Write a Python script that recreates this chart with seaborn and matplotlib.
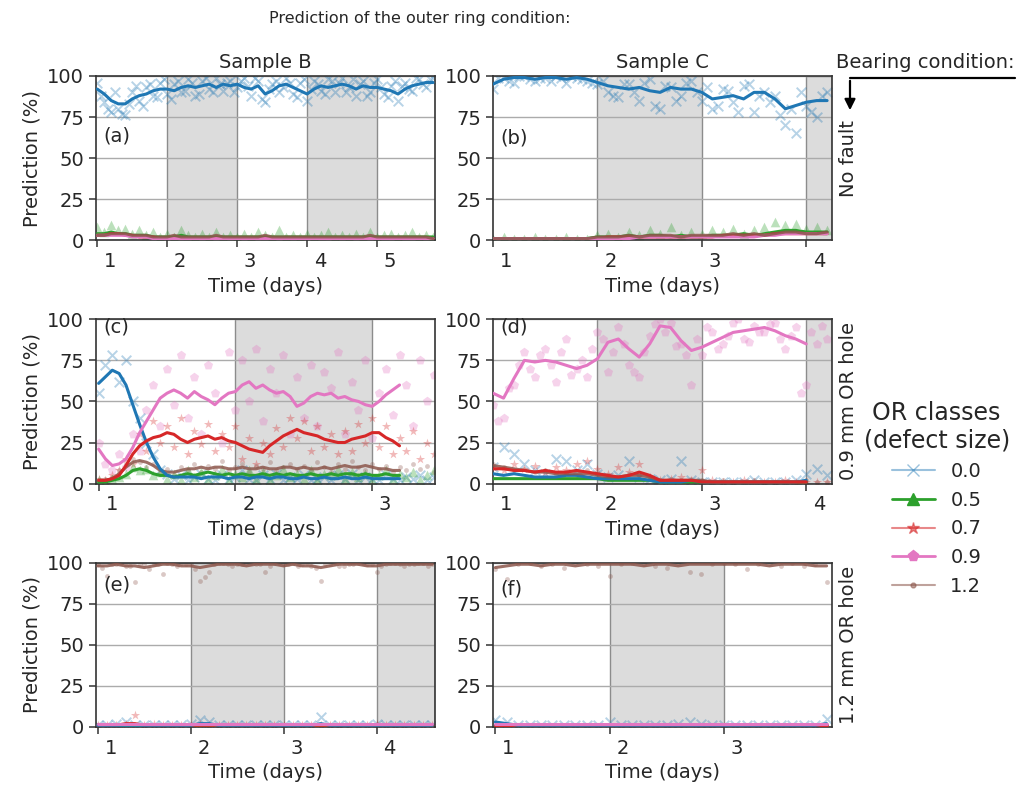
import matplotlib
matplotlib.use("Agg")
import matplotlib.pyplot as plt
import matplotlib.transforms as mtransforms
from matplotlib.lines import Line2D
from matplotlib.patches import FancyArrowPatch
import seaborn as sns

# ---------------- data ----------------
CLASSES = ["0.0", "0.5", "0.7", "0.9", "1.2"]
COLORS = ["#1f77b4", "#2ca02c", "#d62728", "#e377c2", "#8c564b"]
MARKERS = ["x", "^", "*", "p", "."]

# panel (a): sample B, no fault
A_T = [1.0, 1.1, 1.2, 1.3, 1.4, 1.5, 1.6, 1.7, 1.8, 1.9,
       2.0, 2.1, 2.2, 2.3, 2.4, 2.5, 2.6, 2.7, 2.8, 2.9,
       3.0, 3.1, 3.2, 3.3, 3.4, 3.5, 3.6, 3.7, 3.8, 3.9,
       4.0, 4.1, 4.2, 4.3, 4.4, 4.5, 4.6, 4.7, 4.8, 4.9,
       5.0, 5.1, 5.2, 5.3, 5.4, 5.5, 5.6, 5.7, 5.8]
A_TM = [1.05, 1.15, 1.25, 1.35, 1.45, 1.55, 1.65, 1.75, 1.85, 1.95,
        2.05, 2.15, 2.25, 2.35, 2.45, 2.55, 2.65, 2.75, 2.85, 2.95,
        3.05, 3.15, 3.25, 3.35, 3.45, 3.55, 3.65, 3.75, 3.85, 3.95,
        4.05, 4.15, 4.25, 4.35, 4.45, 4.55, 4.65, 4.75, 4.85, 4.95,
        5.05, 5.15, 5.25, 5.35, 5.45, 5.55, 5.65, 5.75]
A_L00 = [92, 89, 85, 83, 83, 86, 88, 89, 91, 92,
         92, 91, 93, 94, 93, 94, 95, 93, 95, 94,
         95, 93, 92, 94, 89, 91, 94, 95, 93, 91,
         89, 92, 94, 93, 94, 95, 94, 92, 94, 93,
         93, 92, 91, 89, 92, 94, 95, 96, 96]
A_S00 = [96, 84, 78, 80, 76, 90, 85, 93, 88, 96,
         89, 95, 90, 98, 88, 97, 92, 99, 91, 97,
         93, 99, 88, 97, 84, 95, 90, 99, 89, 96,
         85, 97, 91, 98, 90, 99, 93, 88, 97, 90,
         98, 89, 94, 85, 96, 91, 98, 93, 99]
A_SM00 = [88, 80, 90, 77, 83, 94, 82, 95, 87, 98,
          86, 97, 91, 96, 89, 99, 90, 95, 96, 90,
          97, 94, 99, 86, 92, 97, 93, 96, 87, 98,
          92, 95, 89, 97, 96, 90, 98, 95, 88, 96,
          93, 87, 97, 94, 92, 99, 95, 98]
A_L05 = [4, 4, 5, 4, 4, 3, 3, 3, 2, 2,
         2, 2, 3, 2, 2, 2, 2, 2, 2, 2,
         2, 2, 2, 2, 2, 2, 2, 2, 2, 2,
         2, 2, 2, 2, 2, 2, 2, 2, 2, 2,
         2, 2, 2, 2, 2, 2, 2, 2, 2]
A_S05 = [8, 5, 9, 6, 7, 4, 6, 3, 5, 2,
         4, 2, 6, 3, 2, 4, 2, 5, 2, 3,
         2, 4, 2, 5, 3, 2, 6, 2, 3, 2,
         4, 2, 3, 5, 2, 3, 2, 4, 2, 5,
         2, 3, 4, 2, 3, 5, 2, 3, 2]
A_L07 = [3, 3, 4, 4, 3, 3, 2, 2, 2, 1,
         1, 1, 1, 1, 1, 1, 1, 1, 1, 1,
         1, 1, 1, 1, 1, 1, 1, 1, 1, 1,
         1, 1, 1, 1, 1, 1, 1, 1, 1, 1,
         1, 1, 1, 1, 1, 1, 1, 1, 1]
A_L09 = [3, 3, 3, 3, 3, 2, 2, 2, 1, 1,
         1, 1, 1, 1, 1, 1, 1, 1, 1, 1,
         1, 1, 1, 1, 1, 1, 1, 1, 1, 1,
         1, 1, 1, 1, 1, 1, 1, 1, 1, 1,
         1, 1, 1, 1, 1, 1, 1, 1, 1]
A_L12 = [3, 3, 4, 4, 4, 3, 3, 3, 2, 2,
         2, 3, 2, 2, 2, 2, 2, 3, 2, 2,
         2, 2, 2, 2, 3, 2, 2, 2, 2, 2,
         2, 2, 2, 2, 2, 2, 2, 2, 2, 3,
         2, 2, 2, 2, 2, 2, 2, 2, 1]

# panel (b): sample C, no fault
B_T = [1.0, 1.1, 1.2, 1.3, 1.4, 1.5, 1.6, 1.7, 1.8, 1.9,
       2.0, 2.1, 2.2, 2.3, 2.4, 2.5, 2.6, 2.7, 2.8, 2.9,
       3.0, 3.1, 3.2, 3.3, 3.4, 3.5, 3.6, 3.7, 3.8, 3.9,
       4.0, 4.1, 4.2]
B_TM = [1.05, 1.15, 1.25, 1.35, 1.45, 1.55, 1.65, 1.75, 1.85, 1.95,
        2.05, 2.15, 2.25, 2.35, 2.45, 2.55, 2.65, 2.75, 2.85, 2.95,
        3.05, 3.15, 3.25, 3.35, 3.45, 3.55, 3.65, 3.75, 3.85, 3.95,
        4.05, 4.15]
B_L00 = [95, 98, 99, 99, 98, 99, 99, 98, 99, 98,
         96, 94, 93, 92, 93, 91, 90, 93, 92, 92,
         90, 86, 87, 88, 86, 90, 90, 86, 80, 82,
         84, 85, 85]
B_S00 = [92, 99, 96, 100, 97, 99, 100, 96, 99, 97,
         95, 90, 87, 95, 85, 98, 80, 93, 88, 97,
         85, 80, 92, 84, 94, 78, 90, 88, 70, 65,
         82, 75, 90]
B_SM00 = [99, 97, 100, 98, 99, 97, 99, 100, 98, 96,
          97, 88, 95, 90, 96, 82, 94, 85, 96, 90,
          93, 82, 91, 78, 95, 88, 84, 76, 80, 90,
          78, 88]
B_L05 = [1, 1, 1, 1, 1, 1, 1, 1, 1, 1,
         2, 2, 2, 3, 2, 3, 3, 2, 3, 2,
         2, 3, 3, 3, 4, 3, 4, 5, 6, 6,
         5, 5, 5]
B_S05 = [1, 2, 1, 1, 2, 1, 1, 2, 1, 1,
         3, 4, 2, 5, 3, 6, 4, 8, 3, 5,
         4, 6, 5, 7, 4, 6, 8, 11, 9, 10,
         7, 8, 6]
B_L07 = [1, 1, 1, 1, 1, 1, 1, 1, 1, 1,
         1, 2, 2, 2, 2, 2, 2, 2, 2, 2,
         2, 2, 3, 3, 3, 3, 3, 4, 4, 4,
         4, 4, 4]
B_L09 = [1, 1, 1, 1, 1, 1, 1, 1, 1, 1,
         1, 1, 1, 1, 2, 2, 2, 2, 2, 2,
         2, 2, 2, 2, 2, 2, 3, 3, 4, 4,
         4, 4, 4]
B_L12 = [1, 1, 1, 1, 1, 1, 1, 1, 1, 1,
         2, 2, 2, 3, 2, 3, 3, 3, 2, 3,
         3, 3, 3, 4, 3, 4, 3, 4, 5, 5,
         4, 4, 5]

# panel (c): sample B, 0.9 mm OR hole
C_T = [1.0, 1.05, 1.1, 1.15, 1.2, 1.25, 1.3, 1.35, 1.4, 1.45,
       1.5, 1.55, 1.6, 1.65, 1.7, 1.75, 1.8, 1.85, 1.9, 1.95,
       2.0, 2.05, 2.1, 2.15, 2.2, 2.25, 2.3, 2.35, 2.4, 2.45,
       2.5, 2.55, 2.6, 2.65, 2.7, 2.75, 2.8, 2.85, 2.9, 2.95,
       3.0, 3.05, 3.1, 3.15, 3.2]
C_TS = [1.0, 1.05, 1.1, 1.15, 1.2, 1.25, 1.3, 1.35, 1.4, 1.45,
        1.5, 1.55, 1.6, 1.65, 1.7, 1.75, 1.8, 1.85, 1.9, 1.95,
        2.0, 2.05, 2.1, 2.15, 2.2, 2.25, 2.3, 2.35, 2.4, 2.45,
        2.5, 2.55, 2.6, 2.65, 2.7, 2.75, 2.8, 2.85, 2.9, 2.95,
        3.0, 3.05, 3.1, 3.15, 3.2, 3.25, 3.3, 3.35, 3.4, 3.45]
C_L00 = [61, 65, 69, 67, 60, 48, 36, 25, 16, 9,
         5, 4, 4, 4, 4, 3, 4, 4, 4, 3,
         4, 4, 3, 4, 4, 3, 4, 4, 3, 3,
         4, 3, 3, 4, 3, 3, 4, 3, 3, 4,
         3, 3, 3, 3, 3]
C_L05 = [1, 1, 2, 3, 5, 8, 9, 8, 6, 5,
         5, 4, 5, 6, 5, 6, 7, 6, 5, 6,
         5, 6, 5, 5, 6, 5, 6, 5, 6, 5,
         5, 6, 5, 5, 6, 5, 6, 6, 5, 6,
         5, 5, 6, 5, 5]
C_L07 = [2, 2, 3, 5, 11, 18, 23, 26, 28, 29,
         31, 30, 27, 25, 27, 28, 29, 27, 28, 26,
         25, 23, 21, 20, 19, 23, 26, 29, 31, 33,
         31, 30, 29, 27, 26, 25, 25, 27, 28, 29,
         31, 31, 28, 26, 23]
C_L09 = [21, 15, 11, 12, 15, 22, 31, 38, 45, 52,
         55, 57, 55, 52, 56, 53, 51, 48, 52, 55,
         56, 60, 62, 58, 60, 57, 55, 56, 53, 47,
         49, 53, 55, 54, 55, 52, 53, 51, 50, 48,
         47, 50, 54, 57, 60]
C_L12 = [2, 2, 3, 6, 10, 13, 14, 13, 11, 8,
         7, 7, 8, 9, 9, 10, 9, 10, 10, 9,
         9, 10, 9, 9, 10, 9, 9, 10, 10, 9,
         10, 9, 9, 10, 9, 10, 11, 10, 10, 11,
         10, 9, 9, 8, 8]
C_S00 = [55, 72, 78, 62, 75, 50, 40, 25, 18, 8,
         6, 3, 5, 2, 4, 6, 3, 2, 5, 3,
         4, 8, 3, 2, 5, 3, 6, 2, 4, 3,
         5, 2, 3, 4, 2, 5, 3, 6, 2, 4,
         3, 2, 5, 3, 2, 4, 3, 5, 2, 4]
C_S05 = [2, 1, 3, 4, 6, 10, 8, 9, 5, 7,
         3, 6, 2, 8, 4, 7, 3, 5, 9, 2,
         6, 4, 8, 3, 7, 2, 5, 9, 4, 6,
         3, 8, 2, 6, 5, 9, 3, 7, 4, 6,
         2, 5, 8, 3, 6, 4, 7, 2, 5, 8]
C_S07 = [3, 2, 5, 8, 15, 12, 30, 20, 38, 25,
         35, 22, 40, 18, 32, 24, 36, 20, 30, 22,
         35, 15, 28, 12, 25, 18, 34, 22, 40, 28,
         38, 20, 35, 22, 30, 18, 32, 20, 36, 25,
         40, 22, 35, 18, 28, 20, 32, 15, 25, 18]
C_S09 = [25, 12, 8, 18, 10, 30, 20, 45, 60, 35,
         70, 48, 78, 40, 65, 30, 72, 55, 25, 80,
         45, 75, 50, 82, 38, 70, 55, 78, 30, 65,
         40, 72, 35, 68, 58, 80, 30, 62, 45, 75,
         28, 55, 70, 42, 78, 60, 35, 75, 50, 66]
C_S12 = [2, 3, 4, 8, 12, 15, 13, 10, 12, 6,
         9, 5, 10, 8, 12, 7, 11, 9, 14, 8,
         10, 12, 7, 11, 9, 13, 8, 10, 12, 9,
         11, 8, 13, 10, 7, 12, 9, 14, 10, 8,
         12, 9, 11, 7, 10, 8, 12, 9, 11, 7]

# panel (d): sample C, 0.9 mm OR hole
D_T = [1.0, 1.1, 1.2, 1.3, 1.4, 1.5, 1.6, 1.7, 1.8, 1.9,
       2.0, 2.1, 2.2, 2.3, 2.4, 2.5, 2.6, 2.7, 2.8, 2.9,
       3.0, 3.1, 3.2, 3.3, 3.4, 3.5, 3.6, 3.7, 3.8, 3.9,
       4.0]
D_TS = [1.0, 1.1, 1.2, 1.3, 1.4, 1.5, 1.6, 1.7, 1.8, 1.9,
        2.0, 2.1, 2.2, 2.3, 2.4, 2.5, 2.6, 2.7, 2.8, 2.9,
        3.0, 3.1, 3.2, 3.3, 3.4, 3.5, 3.6, 3.7, 3.8, 3.9,
        4.0, 4.1, 4.2]
D_TSM = [1.05, 1.15, 1.25, 1.35, 1.45, 1.55, 1.65, 1.75, 1.85, 1.95,
         2.05, 2.15, 2.25, 2.35, 2.45, 2.55, 2.65, 2.75, 2.85, 2.95,
         3.05, 3.15, 3.25, 3.35, 3.45, 3.55, 3.65, 3.75, 3.85, 3.95,
         4.05, 4.15]
D_L00 = [6, 5, 6, 5, 4, 4, 4, 5, 5, 4,
         3, 3, 3, 3, 3, 2, 1, 1, 1, 2,
         1, 1, 1, 1, 1, 1, 1, 1, 1, 1,
         2]
D_L05 = [3, 3, 3, 3, 3, 3, 3, 3, 3, 3,
         3, 2, 2, 2, 2, 2, 1, 1, 1, 1,
         1, 1, 1, 1, 1, 1, 1, 1, 1, 1,
         1]
D_L07 = [9, 9, 8, 8, 7, 8, 7, 7, 8, 7,
         6, 5, 4, 5, 7, 5, 2, 2, 2, 2,
         1, 1, 1, 1, 1, 1, 1, 1, 1, 1,
         1]
D_L09 = [55, 52, 64, 75, 74, 75, 74, 72, 70, 72,
         76, 86, 88, 82, 77, 85, 96, 95, 87, 81,
         83, 86, 89, 92, 93, 94, 95, 93, 90, 88,
         85]
D_L12 = [11, 10, 9, 8, 7, 7, 6, 6, 6, 6,
         5, 4, 4, 5, 5, 4, 2, 2, 2, 2,
         2, 1, 1, 1, 1, 1, 1, 1, 1, 1,
         1]
D_S00 = [10, 22, 18, 12, 8, 6, 15, 14, 8, 12,
         6, 4, 5, 14, 4, 3, 2, 3, 14, 2,
         1, 1, 1, 1, 1, 2, 1, 1, 1, 2,
         6, 9, 5]
D_S07 = [10, 8, 12, 9, 11, 7, 10, 8, 12, 14,
         9, 6, 10, 7, 12, 4, 2, 3, 4, 2,
         8, 2, 1, 1, 2, 1, 1, 1, 2, 1,
         1, 1, 1]
D_S09 = [48, 40, 60, 80, 65, 82, 62, 88, 70, 65,
         92, 68, 95, 72, 65, 90, 100, 98, 85, 60,
         78, 92, 85, 98, 88, 96, 92, 98, 82, 95,
         60, 85, 88]
D_SM09 = [38, 58, 72, 70, 78, 72, 80, 66, 75, 82,
          88, 80, 85, 68, 80, 97, 92, 84, 78, 88,
          95, 82, 90, 100, 86, 92, 97, 88, 90, 55,
          92, 96]
D_S12 = [12, 10, 8, 9, 7, 8, 6, 7, 5, 8,
         6, 5, 4, 6, 5, 3, 2, 3, 2, 3,
         2, 1, 2, 1, 1, 2, 1, 1, 1, 1,
         2, 1, 1]

# panel (e): sample B, 1.2 mm OR hole
E_T = [1.0, 1.1, 1.2, 1.3, 1.4, 1.5, 1.6, 1.7, 1.8, 1.9,
       2.0, 2.1, 2.2, 2.3, 2.4, 2.5, 2.6, 2.7, 2.8, 2.9,
       3.0, 3.1, 3.2, 3.3, 3.4, 3.5, 3.6, 3.7, 3.8, 3.9,
       4.0, 4.1, 4.2, 4.3, 4.4, 4.5, 4.6]
E_TM = [1.05, 1.15, 1.25, 1.35, 1.45, 1.55, 1.65, 1.75, 1.85, 1.95,
        2.05, 2.15, 2.25, 2.35, 2.45, 2.55, 2.65, 2.75, 2.85, 2.95,
        3.05, 3.15, 3.25, 3.35, 3.45, 3.55, 3.65, 3.75, 3.85, 3.95,
        4.05, 4.15, 4.25, 4.35, 4.45, 4.55]
E_L12 = [98, 98, 99, 98, 98, 97, 98, 99, 99, 98,
         98, 97, 98, 99, 99, 99, 98, 99, 99, 99,
         98, 99, 98, 98, 97, 98, 99, 99, 99, 98,
         98, 99, 99, 99, 99, 99, 99]
E_S12 = [99, 92, 99, 98, 88, 99, 99, 93, 99, 100,
         99, 89, 94, 100, 99, 99, 100, 99, 94, 100,
         99, 100, 99, 98, 89, 99, 98, 99, 100, 99,
         94, 99, 100, 98, 99, 100, 99]
E_SM12 = [97, 99, 100, 98, 99, 96, 99, 100, 98, 99,
          96, 91, 99, 100, 98, 99, 100, 99, 98, 100,
          99, 98, 100, 97, 99, 100, 98, 99, 100, 99,
          98, 100, 99, 99, 100, 98]
E_L00 = [1, 1, 1, 1, 1, 1, 1, 1, 1, 1,
         1, 2, 2, 1, 1, 1, 1, 1, 1, 1,
         1, 1, 1, 1, 2, 1, 1, 1, 1, 1,
         1, 1, 1, 1, 1, 1, 1]
E_S00 = [1, 1, 2, 3, 1, 1, 1, 1, 1, 1,
         2, 4, 3, 1, 1, 1, 1, 1, 1, 1,
         1, 1, 1, 1, 6, 1, 1, 1, 1, 1,
         2, 1, 1, 1, 1, 1, 1]
E_L05 = [1, 1, 1, 1, 1, 1, 1, 1, 1, 1,
         1, 1, 1, 1, 1, 1, 1, 1, 1, 1,
         1, 1, 1, 1, 1, 1, 1, 1, 1, 1,
         1, 1, 1, 1, 1, 1, 1]
E_L07 = [1, 1, 1, 2, 2, 1, 1, 1, 1, 1,
         1, 1, 1, 1, 1, 1, 1, 1, 1, 1,
         1, 1, 1, 1, 1, 1, 1, 1, 1, 1,
         1, 1, 1, 1, 1, 1, 1]
E_S07 = [1, 1, 1, 2, 7, 1, 2, 1, 1, 1,
         1, 2, 1, 1, 1, 1, 1, 1, 1, 1,
         1, 1, 1, 1, 1, 1, 1, 1, 1, 1,
         2, 1, 1, 1, 1, 1, 1]
E_L09 = [2, 2, 2, 2, 2, 2, 2, 2, 2, 2,
         2, 2, 2, 2, 2, 2, 2, 2, 2, 2,
         2, 2, 2, 2, 2, 2, 2, 2, 2, 2,
         2, 2, 2, 2, 2, 2, 2]

# panel (f): sample C, 1.2 mm OR hole
F_T = [1.0, 1.1, 1.2, 1.3, 1.4, 1.5, 1.6, 1.7, 1.8, 1.9,
       2.0, 2.1, 2.2, 2.3, 2.4, 2.5, 2.6, 2.7, 2.8, 2.9,
       3.0, 3.1, 3.2, 3.3, 3.4, 3.5, 3.6, 3.7, 3.8, 3.9]
F_L12 = [97, 98, 99, 99, 98, 99, 99, 98, 99, 99,
         99, 99, 99, 98, 99, 99, 98, 99, 99, 99,
         99, 99, 99, 99, 98, 99, 99, 99, 98, 98]
F_S12 = [96, 90, 99, 100, 98, 99, 97, 100, 99, 98,
         92, 99, 100, 99, 98, 97, 100, 94, 93, 99,
         100, 99, 96, 99, 100, 98, 100, 98, 99, 88]
F_L00 = [3, 2, 1, 1, 1, 1, 1, 1, 1, 1,
         1, 1, 1, 1, 1, 1, 1, 1, 1, 1,
         1, 1, 1, 1, 1, 1, 1, 1, 1, 2]
F_S00 = [4, 3, 1, 1, 1, 1, 1, 1, 1, 1,
         3, 1, 1, 1, 1, 1, 2, 3, 2, 1,
         1, 1, 1, 1, 1, 1, 1, 1, 1, 5]
F_L05 = [1, 1, 1, 1, 1, 1, 1, 1, 1, 1,
         1, 1, 1, 1, 1, 1, 1, 1, 1, 1,
         1, 1, 1, 1, 1, 1, 1, 1, 1, 1]
F_L07 = [1, 1, 1, 1, 1, 1, 1, 1, 1, 1,
         1, 1, 1, 1, 1, 1, 1, 1, 1, 1,
         1, 1, 1, 1, 1, 1, 1, 1, 1, 1]
F_L09 = [2, 2, 2, 2, 2, 2, 2, 2, 2, 2,
         2, 2, 2, 2, 2, 2, 2, 2, 2, 2,
         2, 2, 2, 2, 2, 2, 2, 2, 2, 2]

ROW_LABELS = ["No fault", "0.9 mm OR hole", "1.2 mm OR hole"]

# ---------------- drawing ----------------
sns.set_style("ticks")
plt.rcParams["font.family"] = ["DejaVu Sans"]
plt.rcParams["font.size"] = 14

fig, axes = plt.subplots(3, 2, figsize=(10.2, 7.91), dpi=100)
fig.subplots_adjust(left=0.094, right=0.816, top=0.904, bottom=0.081,
                    wspace=0.171, hspace=0.481)


def draw_panel(ax, line_t, lines, dots, xlim, days, shade, tag, tag_y):
    for a, b in shade:
        ax.axvspan(a, b, facecolor="#dcdcdc", edgecolor="#8c8c8c", lw=1.0, zorder=0.2)
    for k, t, v in dots:
        lw = 1.4 if MARKERS[k] == "x" else 0
        sns.scatterplot(x=t, y=v, ax=ax, color=COLORS[k], marker=MARKERS[k],
                        s=48, alpha=0.32, linewidth=lw, legend=False, zorder=2)
    for k, v in lines:
        sns.lineplot(x=line_t, y=v, ax=ax, color=COLORS[k], lw=2.2,
                     alpha=0.85 if k == 4 else 1.0, legend=False, zorder=3)
    ax.set_xlim(*xlim)
    ax.set_ylim(0, 100)
    ax.set_yticks([0, 25, 50, 75, 100])
    ax.set_xticks(days)
    ax.grid(axis="y", color="#ababab", lw=1.0, zorder=0.5)
    ax.set_xlabel("Time (days)")
    ax.set_ylabel("")
    for sp in ax.spines.values():
        sp.set_visible(True)
        sp.set_color("#333333")
        sp.set_linewidth(1.2)
    ax.tick_params(axis="both", labelsize=14, length=5, width=1.1, color="#333333")
    offset = mtransforms.ScaledTranslation(0.13, 0, fig.dpi_scale_trans)
    for lab in ax.get_xticklabels():
        lab.set_transform(lab.get_transform() + offset)
    ax.text(0.022, tag_y, tag, transform=ax.transAxes, ha="left", va="center", fontsize=14)


draw_panel(axes[0, 0], A_T,
           [(1, A_L05), (2, A_L07), (3, A_L09), (4, A_L12), (0, A_L00)],
           [(0, A_T, A_S00), (0, A_TM, A_SM00), (1, A_T, A_S05)],
           (0.98, 5.83), [1, 2, 3, 4, 5], [(2, 3), (4, 5)], "(a)", 0.635)
draw_panel(axes[0, 1], B_T,
           [(1, B_L05), (2, B_L07), (3, B_L09), (4, B_L12), (0, B_L00)],
           [(0, B_T, B_S00), (0, B_TM, B_SM00), (1, B_T, B_S05)],
           (1.0, 4.25), [1, 2, 3, 4], [(2, 3), (4, 4.25)], "(b)", 0.62)
draw_panel(axes[1, 0], C_T,
           [(1, C_L05), (4, C_L12), (0, C_L00), (2, C_L07), (3, C_L09)],
           [(3, C_TS, C_S09), (2, C_TS, C_S07), (0, C_TS, C_S00),
            (4, C_TS, C_S12), (1, C_TS, C_S05)],
           (0.98, 3.46), [1, 2, 3], [(2, 3)], "(c)", 0.95)
draw_panel(axes[1, 1], D_T,
           [(1, D_L05), (0, D_L00), (4, D_L12), (2, D_L07), (3, D_L09)],
           [(3, D_TS, D_S09), (3, D_TSM, D_SM09), (0, D_TS, D_S00),
            (2, D_TS, D_S07), (4, D_TS, D_S12)],
           (1.0, 4.25), [1, 2, 3, 4], [(2, 3), (4, 4.25)], "(d)", 0.95)
draw_panel(axes[2, 0], E_T,
           [(1, E_L05), (2, E_L07), (0, E_L00), (3, E_L09), (4, E_L12)],
           [(4, E_T, E_S12), (4, E_TM, E_SM12), (0, E_T, E_S00), (2, E_T, E_S07)],
           (0.98, 4.63), [1, 2, 3, 4], [(2, 3), (4, 4.63)], "(e)", 0.865)
draw_panel(axes[2, 1], F_T,
           [(1, F_L05), (2, F_L07), (0, F_L00), (3, F_L09), (4, F_L12)],
           [(4, F_T, F_S12), (0, F_T, F_S00)],
           (0.98, 3.95), [1, 2, 3], [(2, 3)], "(f)", 0.84)

for r in range(3):
    axes[r, 0].set_ylabel("Prediction (%)", fontsize=14)
    axes[r, 1].text(1.02, 0.5, ROW_LABELS[r], transform=axes[r, 1].transAxes,
                    rotation=90, ha="left", va="center", fontsize=14)

axes[0, 0].set_title("Sample B", fontsize=14, pad=6)
axes[0, 1].set_title("Sample C", fontsize=14, pad=6)

fig.text(420 / 1020, 1 - 18 / 791, "Prediction of the outer ring condition:",
         ha="center", va="center", fontsize=11.5)
fig.text(1015 / 1020, 1 - 62 / 791, "Bearing condition:", ha="right", va="center", fontsize=14)
fig.add_artist(Line2D([1015 / 1020, 850 / 1020], [1 - 78 / 791, 1 - 78 / 791],
                      transform=fig.transFigure, color="black", lw=1.6))
fig.add_artist(FancyArrowPatch((850 / 1020, 1 - 78 / 791), (850 / 1020, 1 - 113 / 791),
                               transform=fig.transFigure, arrowstyle="-|>",
                               mutation_scale=16, lw=1.6, color="black"))

handles = [
    Line2D([], [], color=COLORS[0], marker="x", lw=1.5, ms=9, alpha=0.45),
    Line2D([], [], color=COLORS[1], marker="^", lw=2, ms=8),
    Line2D([], [], color=COLORS[2], marker="*", lw=1.5, ms=9, alpha=0.55),
    Line2D([], [], color=COLORS[3], marker="p", lw=2, ms=8),
    Line2D([], [], color=COLORS[4], marker=".", lw=1.5, ms=7, alpha=0.55),
]
leg = fig.legend(handles, CLASSES, title="OR classes\n(defect size)",
                 loc="upper left", bbox_to_anchor=(846 / 1020, 1 - 383 / 791),
                 frameon=False, fontsize=14, title_fontsize=17,
                 handlelength=2.2, labelspacing=0.5)
leg.get_title().set_multialignment("center")

fig.savefig("out.png", dpi=100)
